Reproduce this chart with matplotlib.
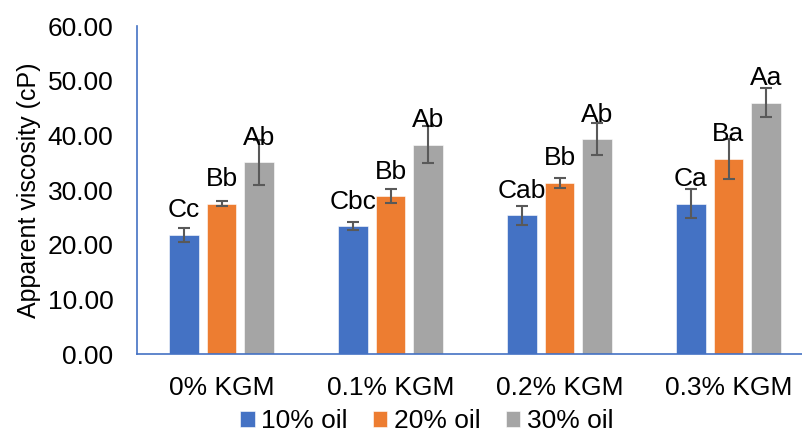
import matplotlib.pyplot as plt
import numpy as np

plt.rcParams['font.family'] = ['Liberation Sans', 'DejaVu Sans']

groups = ['0% KGM', '0.1% KGM', '0.2% KGM', '0.3% KGM']
series = ['10% oil', '20% oil', '30% oil']
oil10 = [21.8, 23.4, 25.4, 27.5]
oil20 = [27.5, 28.9, 31.3, 35.7]
oil30 = [35.1, 38.3, 39.3, 46.0]
err10 = [1.3, 0.8, 1.75, 2.7]
err20 = [0.5, 1.3, 0.85, 3.7]
err30 = [4.1, 3.4, 2.9, 2.6]
lab10 = ['Cc', 'Cbc', 'Cab', 'Ca']
lab20 = ['Bb', 'Bb', 'Bb', 'Ba']
lab30 = ['Ab', 'Ab', 'Ab', 'Aa']
colors = ['#4472C4', '#ED7D31', '#A5A5A5']

fs = 19
fig = plt.figure(figsize=(8.02, 4.34), dpi=100)
ax = fig.add_axes([137/802, 80/434, 676/802, 328/434])

x = np.arange(len(groups))
width = 0.172
step = 0.222
vals = [oil10, oil20, oil30]
errs = [err10, err20, err30]
labs = [lab10, lab20, lab30]
for i in range(3):
	pos = x + (i - 1) * step
	ax.bar(pos, vals[i], width, color=colors[i], label=series[i],
		edgecolor='white', linewidth=0.4, zorder=2)
	ax.errorbar(pos, vals[i], yerr=errs[i], fmt='none', ecolor='#595959',
		elinewidth=1.5, capsize=4.3, capthick=1.5, zorder=3)
	for p, v, t in zip(pos, vals[i], labs[i]):
		ax.annotate(t, (p, v), xytext=(0, 12.6), textcoords='offset points',
			ha='center', va='baseline', fontsize=fs, zorder=4)

ax.set_xlim(-0.5, 3.5)
ax.set_ylim(0, 60)
ax.set_yticks(np.arange(0, 61, 10))
ax.set_yticklabels(['%.2f' % v for v in np.arange(0, 61, 10)])
ax.set_xticks(x)
ax.set_xticklabels(groups)
ax.tick_params(axis='both', length=0, labelsize=fs)
ax.tick_params(axis='y', pad=17)
ax.tick_params(axis='x', pad=16)
for s in ['top', 'right']:
	ax.spines[s].set_visible(False)
for s in ['left', 'bottom']:
	ax.spines[s].set_color('#4472C4')
	ax.spines[s].set_linewidth(1.2)
ax.set_ylabel('Apparent viscosity (cP)', fontsize=18, labelpad=5)

fig.legend(loc='center', bbox_to_anchor=(0.532, 0.03), ncol=3, frameon=False,
	fontsize=fs, handlelength=0.55, handleheight=0.55, handletextpad=0.25,
	columnspacing=0.95, borderpad=0, borderaxespad=0)

fig.savefig('out.png', dpi=100)
